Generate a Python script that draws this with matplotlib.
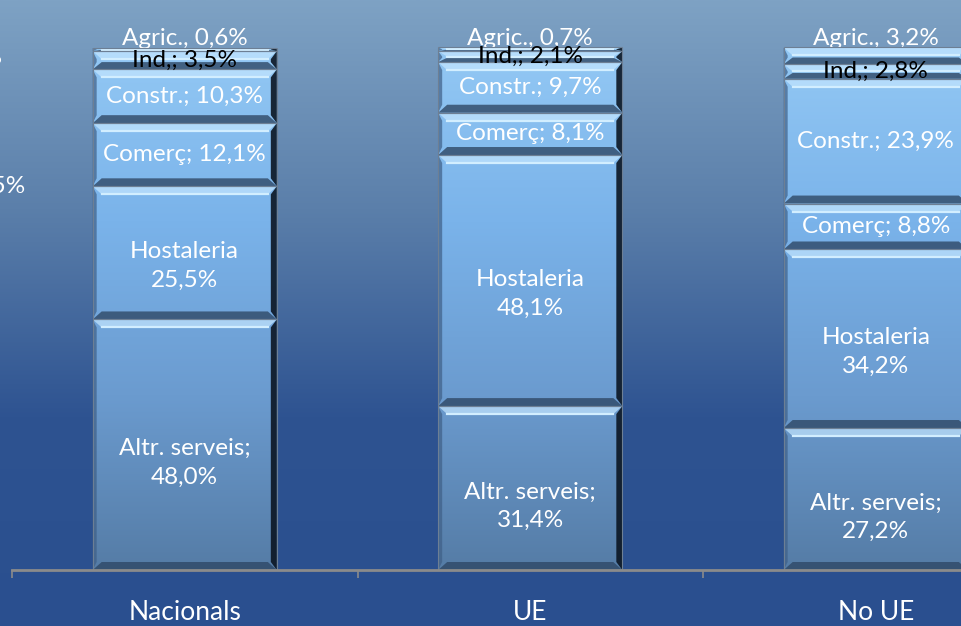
import numpy as np
import matplotlib
matplotlib.use('Agg')
import matplotlib.pyplot as plt
from matplotlib.colors import LinearSegmentedColormap

# data (bottom -> top)
categories = ["Nacionals", "UE", "No UE"]
sectors = ["Altr. serveis", "Hostaleria", "Comerç", "Constr.", "Ind,", "Agric."]
altr = [48.0, 31.4, 27.2]
host = [25.5, 48.1, 34.2]
comerc = [12.1, 8.1, 8.8]
constr = [10.3, 9.7, 23.9]
ind = [3.5, 2.1, 2.8]
agric = [0.6, 0.7, 3.2]
series = [altr, host, comerc, constr, ind, agric]

plt.rcParams['font.family'] = ['Lato', 'DejaVu Sans']
FW = 'normal'

W, H = 961, 626
fig = plt.figure(figsize=(W / 100, H / 100), dpi=100)
ax = fig.add_axes([0, 0, 1, 1])
ax.axis('off')

# pixel scales
ppx = 345.5          # px per category
ppy = 5.22           # px per percent
xlo = -0.5 - 12 / ppx
xhi = xlo + W / ppx
ylo = -56 / ppy
yhi = ylo + H / ppy
ax.set_xlim(xlo, xhi)
ax.set_ylim(ylo, yhi)

# background gradient
bg = LinearSegmentedColormap.from_list("bg", ["#2a4f8f", "#2e5391", "#5b7faa", "#7ea2c4"])
ax.imshow(np.linspace(0, 1, 256)[:, None], cmap=bg, extent=[xlo, xhi, ylo, yhi],
          aspect='auto', origin='lower', zorder=0)

face = LinearSegmentedColormap.from_list("face", ["#557ca6", "#6b9bcf", "#7ab3ea", "#93c8f4"])

x = np.arange(len(categories))
bw = 0.533
fmt = lambda v: "{:.1f}".format(v).replace('.', ',')

# Agric. labels sit above the bars, partly hidden by them
for i in range(len(categories)):
    ax.text(x[i], 101.9, "Agric., " + fmt(agric[i]) + "%", color='white', fontsize=17.5,
            fontweight=FW, ha='center', va='center', zorder=1.5)

bottom = np.zeros(len(categories))
for s, vals in enumerate(series):
    bars = ax.bar(x, vals, bw, bottom=bottom, facecolor='none', edgecolor='#6d7f94',
                  linewidth=0.8, zorder=3)
    for i, p in enumerate(bars.patches):
        x0, y0 = p.get_x(), p.get_y()
        x1, y1 = x0 + p.get_width(), y0 + p.get_height()
        im = ax.imshow(np.linspace(0, 1, 256)[:, None], cmap=face, extent=[x0, x1, 0, 100],
                       aspect='auto', origin='lower', zorder=2)
        im.set_clip_path(p)
        h = p.get_height()
        ht = min(8 / ppy, h * 0.5)
        hb = min(8 / ppy, h * 0.4)
        dx = 9 / ppx
        # top bevel (light)
        ax.fill([x0, x1, x1 - dx, x0 + dx], [y1, y1, y1 - ht, y1 - ht], color='#c4e6ff',
                alpha=0.7, lw=0, zorder=2.2)
        ax.plot([x0 + dx, x1 - dx], [y1 - ht, y1 - ht], color='#d2eeff', lw=1.6, zorder=2.3)
        # bottom bevel (dark)
        ax.fill([x0, x1, x1 - dx, x0 + dx], [y0, y0, y0 + hb, y0 + hb], color='#2f4866',
                alpha=0.8, lw=0, zorder=2.2)
        # right edge (shadow)
        ax.fill([x1, x1, x1 - 6 / ppx, x1 - 6 / ppx], [y0, y1, y1 - ht, y0 + hb],
                color='#0b1522', alpha=0.9, lw=0, zorder=2.2)
        # left edge
        ax.fill([x0, x0, x0 + 4 / ppx, x0 + 4 / ppx], [y0, y1, y1 - ht, y0 + hb],
                color='#3f5f86', alpha=0.7, lw=0, zorder=2.2)

        v = vals[i]
        cy = y0 + h / 2
        if s == 0:
            txt, cy = "Altr. serveis;\n" + fmt(v) + "%", cy - 3.5
        elif s == 1:
            txt, cy = "Hostaleria\n" + fmt(v) + "%", cy - 2.5
        elif s == 2:
            txt = "Comerç; " + fmt(v) + "%"
        elif s == 3:
            txt = "Constr.; " + fmt(v) + "%"
        elif s == 4:
            txt = "Ind,; " + fmt(v) + "%"
        else:
            continue
        ax.text(x[i], cy, txt, color='black' if s == 4 else 'white', fontsize=17.5,
                fontweight=FW, ha='center', va='center', linespacing=1.45, zorder=4)
    bottom += np.array(vals)

# category axis
ax.plot([-0.5, 2.5], [0, 0], color='#8b8b8b', lw=2, zorder=3)
ax.vlines([-0.5, 0.5, 1.5], -1.6, 0, color='#8b8b8b', lw=1.2, zorder=3)
for i, c in enumerate(categories):
    ax.text(x[i], -8.2, c, color='white', fontsize=19, fontweight=FW,
            ha='center', va='center')

# cut-off labels of the previous chart at the left edge
ax.text(xlo + 26 / ppx, (570 - 186) / ppy, "25,5%", color='white', fontsize=17.5,
        fontweight=FW, ha='right', va='center')
ax.text(xlo + 3 / ppx, (570 - 57) / ppy, "3,5%", color='white', fontsize=17.5,
        fontweight=FW, ha='right', va='center')

fig.savefig("out.png", dpi=100)
